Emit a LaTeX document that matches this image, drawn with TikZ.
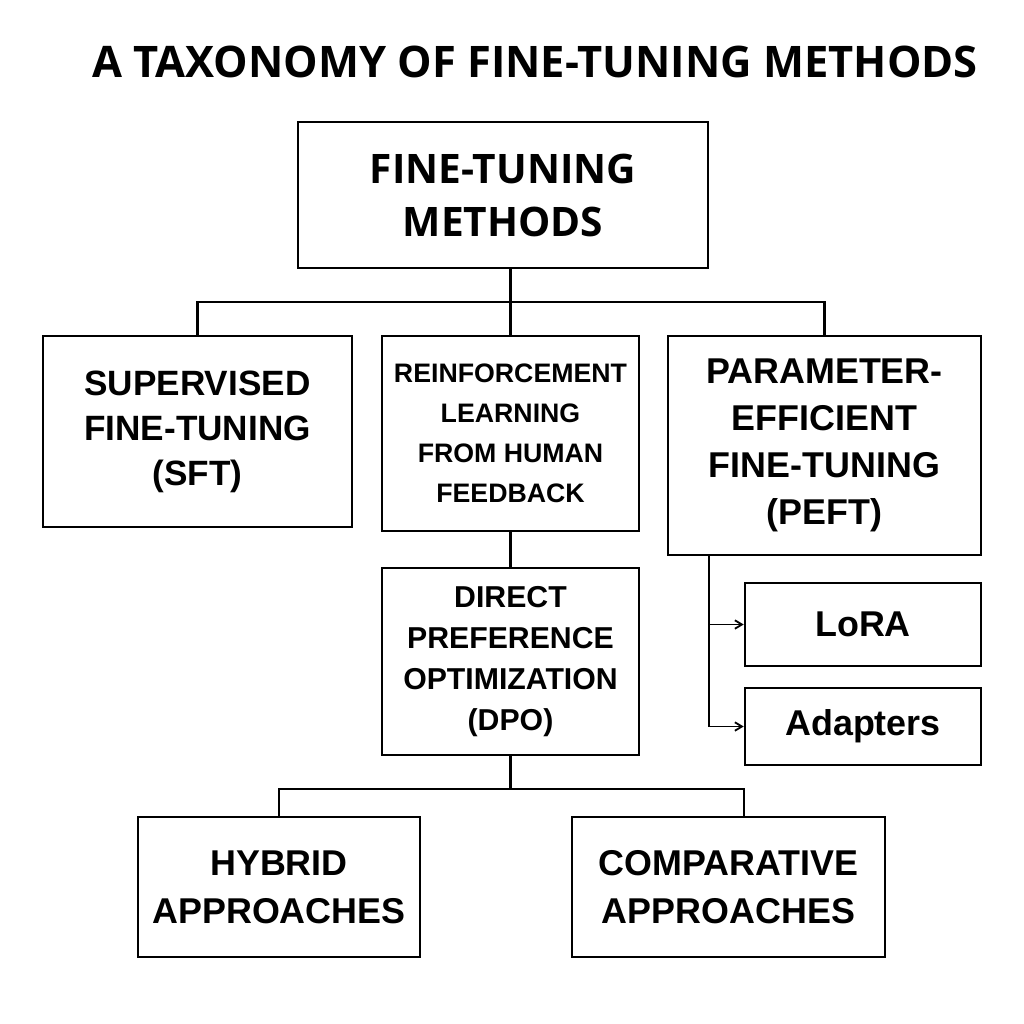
\documentclass[tikz,border=0pt]{standalone}
\usepackage{fontspec}
\setmainfont{Liberation Sans}
\newfontfamily\titlefont{Open Sans}
\usetikzlibrary{positioning}
\usetikzlibrary{arrows.meta}
\tikzset{
    mybox/.style = {rectangle, draw=black, line width=1.8pt, align=center, inner sep=0pt, font=\bfseries},
    edgen/.style = {line width=1.5pt, draw=black},
    edgea/.style = {-{Straight Barb[length=5pt,width=6pt]}, line width=1.3pt, draw=black},
}

\begin{document}
\begin{tikzpicture}[x=0.025cm, y=-0.025cm]
\useasboundingbox (0,0) rectangle (1024,1024);
%
\node[font={\titlefont\bfseries\fontsize{30.9}{36}\selectfont}] at (535,62) (title) {A TAXONOMY OF FINE-TUNING METHODS};
\node[mybox, minimum width=10.25cm, minimum height=3.65cm, font={\titlefont\bfseries\fontsize{28.9}{37.7}\selectfont}] at (503,195) (root) {FINE-TUNING\\METHODS};
%
\node[mybox, minimum width=7.725cm, minimum height=4.775cm, font={\bfseries\fontsize{25}{32}\selectfont}] at (197.5,431.5) (sft) {SUPERVISED\\FINE-TUNING\\(SFT)};
\node[mybox, minimum width=6.425cm, minimum height=4.875cm, font={\bfseries\fontsize{19}{28.5}\selectfont}] at (510.5,433.5) (rlhf) {REINFORCEMENT\\LEARNING\\FROM HUMAN\\FEEDBACK};
\node[mybox, minimum width=7.825cm, minimum height=5.475cm, font={\bfseries\fontsize{25.5}{33.4}\selectfont}] at (824.5,445.5) (peft) {PARAMETER-\\EFFICIENT\\FINE-TUNING\\(PEFT)};
\node[mybox, minimum width=6.425cm, minimum height=4.675cm, font={\bfseries\fontsize{21.5}{29}\selectfont}] at (510.5,661.5) (dpo) {DIRECT\\PREFERENCE\\OPTIMIZATION\\(DPO)};
\node[mybox, minimum width=5.9cm, minimum height=2.075cm, font={\bfseries\fontsize{25.5}{30}\selectfont}] at (863,624.5) (lora) {LoRA};
\node[mybox, minimum width=5.9cm, minimum height=1.925cm, font={\bfseries\fontsize{25.5}{30}\selectfont}] at (863,726.5) (adapt) {Adapters};
\node[mybox, minimum width=7.05cm, minimum height=3.5cm, font={\bfseries\fontsize{25.5}{34}\selectfont}] at (279,887) (hybrid) {HYBRID\\APPROACHES};
\node[mybox, minimum width=7.825cm, minimum height=3.5cm, font={\bfseries\fontsize{25.5}{34}\selectfont}] at (728.5,887) (comp) {COMPARATIVE\\APPROACHES};
%
\coordinate (bus1) at (510.5,302);
\coordinate (bus2) at (510.5,789);
\coordinate (bus3) at (744,789);
\coordinate (pstem) at (709,555);
%
\draw[edgen] (root.south -| rlhf.north) -- (rlhf.north);
\draw[edgen] (sft.north) |- (bus1) -| (peft.north);
\draw[edgen] (rlhf.south) -- (dpo.north);
\draw[edgen] (dpo.south) -- (bus2);
\draw[edgen] (hybrid.north) |- (bus3) -- (bus3 |- comp.north);
\draw[edgea] (pstem) |- (adapt.west);
\draw[edgea] (pstem |- lora.west) -- (lora.west);
\end{tikzpicture}
\end{document}
